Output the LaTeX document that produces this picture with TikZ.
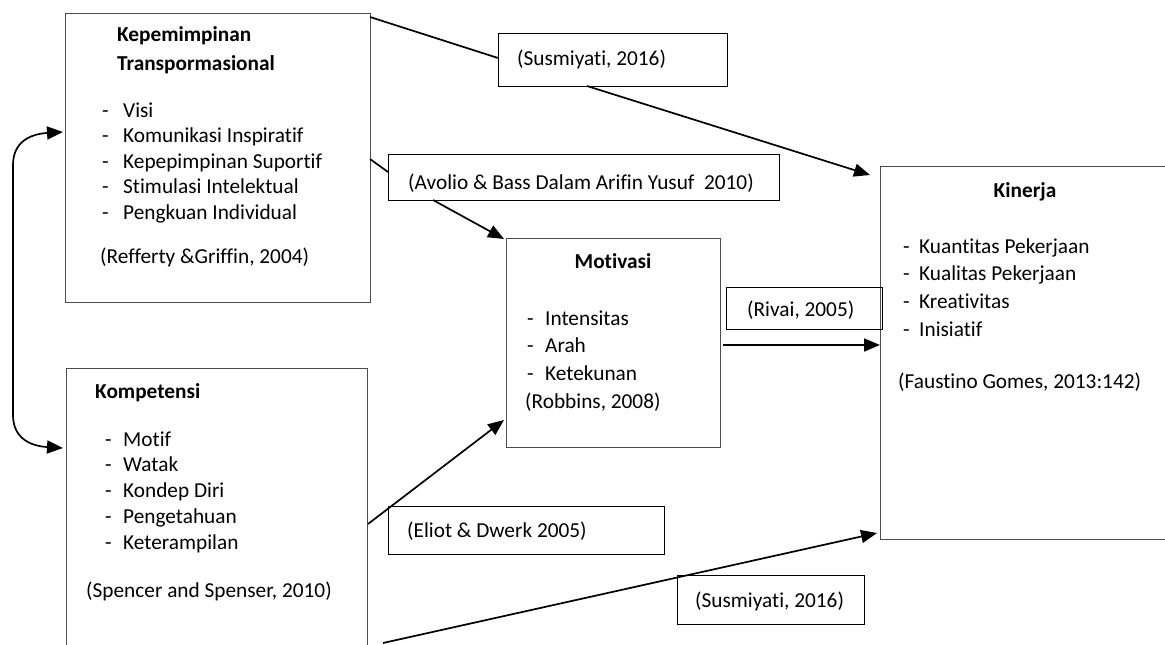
\documentclass[tikz,border=0pt]{standalone}
\usepackage{fontspec}
\setmainfont{Carlito}[Ligatures=NoCommon]
\usetikzlibrary{arrows.meta}
\begin{document}
\begin{tikzpicture}[x=1pt,y=-1pt,
  box/.style={draw=black!70, line width=1.1pt, inner sep=0pt, anchor=north west},
  lbl/.style={draw=black, line width=1.1pt, inner sep=0pt, anchor=north west},
  txt/.style={anchor=base west, inner sep=0pt, font=\fontsize{21.3}{26}\selectfont},
  hd/.style={txt, font=\fontsize{21.3}{26}\selectfont\bfseries},
  conn/.style={line width=1.7pt},
  arr/.style={conn, -{Triangle[length=16pt,width=13pt]}},
  darr/.style={conn, {Triangle[length=16pt,width=13pt]}-{Triangle[length=16pt,width=13pt]}}]
\useasboundingbox (0,0) rectangle (1165,645);
\clip (0,0) rectangle (1165,645);
\fill[white] (0,0) rectangle (1165,645);

% main boxes
\node[box, minimum width=305pt, minimum height=289pt] (b1) at (65,13) {};
\node[box, minimum width=301pt, minimum height=300pt] (b2) at (66,368) {};
\node[box, minimum width=214pt, minimum height=209pt] (mot) at (506,238) {};
\node[box, minimum width=300pt, minimum height=373pt] (kin) at (880,166) {};

% connector end points
\coordinate (p1) at (370,17);
\coordinate (p2) at (587,86);
\coordinate (q2) at (870,175);
\coordinate (p3) at (370,159);
\coordinate (q3) at (388,172);
\coordinate (p4) at (433,200);
\coordinate (q4) at (504,239);
\coordinate (p5) at (723,345);
\coordinate (p6) at (368,524);
\coordinate (q6) at (504,420);
\coordinate (p7) at (383,643);
\coordinate (q7) at (877,533);
\coordinate (la) at (63,132);
\coordinate (lb) at (63,448);

% label boxes
\node[lbl, minimum width=229pt, minimum height=53pt] (s1) at (498,33) {};
\node[lbl, minimum width=391pt, minimum height=46pt] (av) at (388,154) {};
\node[lbl, minimum width=156pt, minimum height=42pt] (rv) at (726,287) {};
\node[lbl, minimum width=276pt, minimum height=48pt] (el) at (388,506) {};
\node[lbl, minimum width=187pt, minimum height=49pt] (s2) at (677,575) {};

\draw[conn] (p1) -- (s1.west |- 0,58);
\draw[arr] (p2) -- (q2);
\draw[conn] (p3) -- (q3);
\draw[arr] (p4) -- (q4);
\draw[arr] (p5) -- (p5 -| kin.west);
\draw[arr] (p6) -- (q6);
\draw[arr] (p7) -- (q7);
\draw[darr] (la) .. controls (30,134) and (13,142) .. (13,165) -- (13,415) .. controls (13,438) and (30,446) .. (lb);

% label texts
\node[txt] (s1t) at (517,65) {(Susmiyati, 2016)};
\node[txt] (avt) at (408,189) {(Avolio \& Bass Dalam Arifin Yusuf \ 2010)};
\node[txt] (rvt) at (747,316) {(Rivai, 2005)};
\node[txt] (elt) at (407,537) {(Eliot \& Dwerk 2005)};
\node[txt] (s2t) at (695,607) {(Susmiyati, 2016)};

% box 1
\node[hd] (b1h1) at (117,41) {Kepemimpinan};
\node[hd] (b1h2) at (117,70) {Transpormasional};
\foreach \t [count=\i] in {Visi, Komunikasi Inspiratif, Kepepimpinan Suportif, Stimulasi Intelektual, Pengkuan Individual}{
  \node[txt] (b1d\i) at (102,{91.5+25.5*\i}) {-};
  \node[txt] (b1i\i) at (123,{91.5+25.5*\i}) {\t};
}
\node[txt] (b1c) at (100,263) {(Refferty \&Griffin, 2004)};

% box 2
\node[hd] (b2h) at (95,398) {Kompetensi};
\foreach \t [count=\i] in {Motif, Watak, Kondep Diri, Pengetahuan, Keterampilan}{
  \node[txt] (b2d\i) at (105,{420.25+25.75*\i}) {-};
  \node[txt] (b2i\i) at (123,{420.25+25.75*\i}) {\t};
}
\node[txt] (b2c) at (86,597) {(Spencer and Spenser, 2010)};

% motivasi
\node[hd, anchor=base] (moth) at (613,268) {Motivasi};
\foreach \t [count=\i] in {Intensitas, Arah, Ketekunan}{
  \node[txt] (motd\i) at (527,{297.5+27.5*\i}) {-};
  \node[txt] (moti\i) at (545,{297.5+27.5*\i}) {\t};
}
\node[txt] (motc) at (525,408) {(Robbins, 2008)};

% kinerja
\node[hd, anchor=base] (kinh) at (1025,197) {Kinerja};
\foreach \t [count=\i] in {Kuantitas Pekerjaan, Kualitas Pekerjaan, Kreativitas, Inisiatif}{
  \node[txt] (kind\i) at (903,{225.3+27.7*\i}) {-};
  \node[txt] (kini\i) at (919,{225.3+27.7*\i}) {\t};
}
\node[txt] (kinc) at (898,388) {(Faustino Gomes, 2013:142)};
\end{tikzpicture}
\end{document}
